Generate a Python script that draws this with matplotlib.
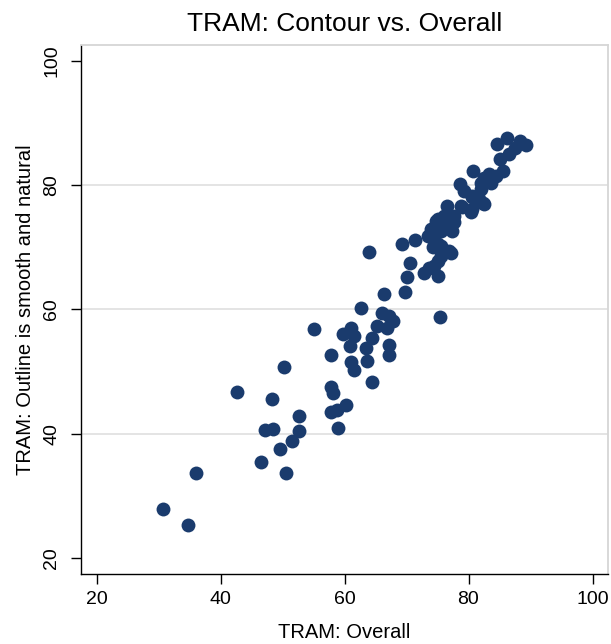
import matplotlib
matplotlib.use("Agg")
import matplotlib.pyplot as plt

plt.rcParams['font.family'] = ['Liberation Sans', 'DejaVu Sans']

title = "TRAM: Contour vs. Overall"
xlabel = "TRAM: Overall"
ylabel = "TRAM: Outline is smooth and natural"
ticks = [20, 40, 60, 80, 100]
grid_y = [40, 60, 80]

overall = [
    30.7, 34.8, 36.1, 42.7, 48.3, 50.3, 47.1, 48.5, 46.6, 49.6, 50.6, 51.6, 52.7, 52.7,
    57.8, 57.9, 58.2, 57.8, 58.8, 60.3, 59.0, 55.1,
    59.7, 61.0, 61.6, 60.9, 61.1, 61.5, 63.4, 63.7, 64.4, 64.5, 65.3, 66.0, 67.2, 67.8,
    66.9, 67.2, 67.1, 62.6, 66.4, 64.0, 75.4,
    69.7, 70.1, 70.6, 69.2, 71.3, 72.8, 75.0,
    73.6, 74.4, 75.0, 75.5, 76.9, 77.1, 74.2, 75.0, 75.5, 73.4, 74.4, 73.9, 75.5, 77.4,
    74.7, 75.5, 76.6, 77.7, 76.1, 77.7, 75.0, 76.6, 78.8, 79.0, 80.5, 80.6, 82.5, 81.7,
    82.3, 80.6, 79.3, 78.6, 82.0, 82.0, 83.6, 84.4, 83.3, 82.5, 80.8, 85.5, 85.1, 86.6,
    87.5, 84.6, 86.2, 88.3, 89.3, 80.4,
]
contour = [
    28.0, 25.3, 33.7, 46.8, 45.6, 50.7, 40.6, 40.8, 35.5, 37.6, 33.7, 38.9, 40.5, 42.9,
    52.7, 47.5, 46.6, 43.5, 43.9, 44.7, 41.0, 56.8,
    56.0, 57.0, 55.8, 54.1, 51.6, 50.3, 53.8, 51.7, 48.4, 55.4, 57.3, 59.5, 59.0, 58.1,
    57.0, 54.3, 52.7, 60.2, 62.5, 69.3, 58.8,
    62.8, 65.3, 67.5, 70.5, 71.2, 65.9, 65.4,
    66.7, 67.0, 67.8, 68.6, 69.4, 69.1, 70.0, 70.5, 70.2, 71.8, 71.6, 72.9, 72.6, 72.6,
    74.2, 73.4, 73.4, 74.0, 75.0, 75.0, 74.5, 76.7, 76.7, 76.4, 76.1, 78.0, 76.9, 77.7,
    77.1, 78.3, 79.1, 80.2, 79.4, 80.4, 80.4, 81.5, 81.7, 81.2, 82.3, 82.3, 84.2, 85.0,
    86.0, 86.6, 87.5, 87.1, 86.5, 75.7,
]

W, H = 611, 644
fig = plt.figure(figsize=(W / 100, H / 100), dpi=100)
fig.patch.set_facecolor('white')
L, R, T, B = 81, 608, 45, 574
ax = fig.add_axes([L / W, (H - B) / H, (R - L) / W, (B - T) / H])

navy = '#1a3b6d'
ax.scatter(overall, contour, s=100, color=navy, linewidths=0, zorder=3)

ax.set_xlim(17.5, 102.5)
ax.set_ylim(17.5, 102.5)
ax.set_xticks(ticks)
ax.set_yticks(ticks)
for g in grid_y:
    ax.axhline(g, color='#dcdcdc', lw=1.1, zorder=1)

for side in ['top', 'right']:
    ax.spines[side].set_color('#d6d6d6')
    ax.spines[side].set_linewidth(1.3)
for side in ['left', 'bottom']:
    ax.spines[side].set_color('black')
    ax.spines[side].set_linewidth(1.0)

ax.tick_params(axis='both', direction='out', length=7, width=1.0, labelsize=14, colors='black')
ax.tick_params(axis='x', pad=5)
ax.tick_params(axis='y', pad=8)
for lab in ax.get_yticklabels():
    lab.set_rotation(90)
    lab.set_va('center')

ax.set_xlabel(xlabel, fontsize=14.5, labelpad=11)
ax.set_ylabel(ylabel, fontsize=14.5, labelpad=6)
ax.set_title(title, fontsize=19, pad=10)

fig.savefig('out.png', dpi=100, facecolor='white')
